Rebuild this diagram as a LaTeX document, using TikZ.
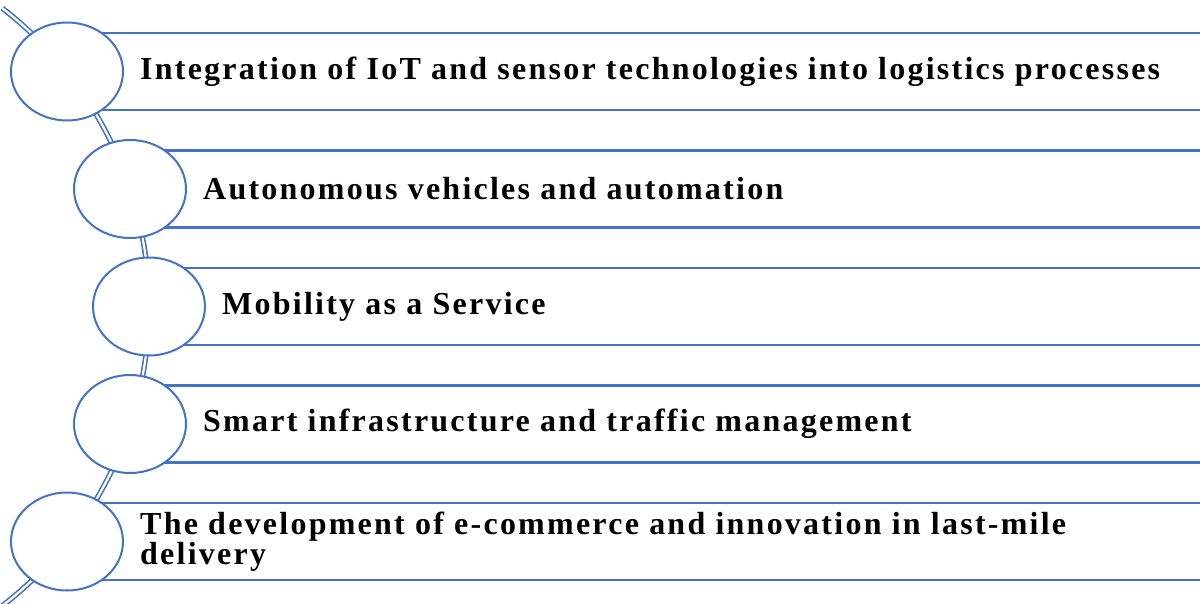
\documentclass[tikz,border=0pt]{standalone}
\usepackage{fontspec}
\setmainfont{Liberation Serif}
\usetikzlibrary{shapes.geometric}
\definecolor{lineblue}{HTML}{4472C4}

\begin{document}
\begin{tikzpicture}[x=1pt, y=-1pt,
    ring/.style={ellipse, draw=lineblue, line width=2pt, fill=white, minimum width=112pt, minimum height=98pt, inner sep=0pt},
    bar/.style={rectangle, draw=lineblue, line width=2.2pt, fill=white, anchor=west, minimum width=1250pt, minimum height=77pt, inner sep=0pt},
    itemtext/.style={anchor=west, align=left, inner sep=0pt, font=\fontsize{32}{30}\selectfont\bfseries\addfontfeatures{LetterSpace=7}}]
\clip (0,0) rectangle (1200,603);
% curved spine behind the rings
\draw[lineblue, line width=1.6pt, double=white, double distance=2.2pt]
    (-228.7,307) ++(-52.3:377.7) arc[start angle=-52.3, end angle=54, radius=377.7];
\foreach \i/\cx/\cy/\txt in {
    1/67/71.5/{Integration of IoT and sensor technologies into logistics processes},
    2/130/189/{Autonomous vehicles and automation},
    3/149/306.5/{Mobility as a Service},
    4/130/424/{Smart infrastructure and traffic management},
    5/67/541.5/{The development of e-commerce and innovation in last-mile\\delivery}} {
    \node[bar] (bar\i) at (\cx,\cy) {};
    \node[ring] (ring\i) at (\cx,\cy) {};
    \node[itemtext] (text\i) at ([xshift=16pt]ring\i.east) {\txt};
}
\end{tikzpicture}
\end{document}
